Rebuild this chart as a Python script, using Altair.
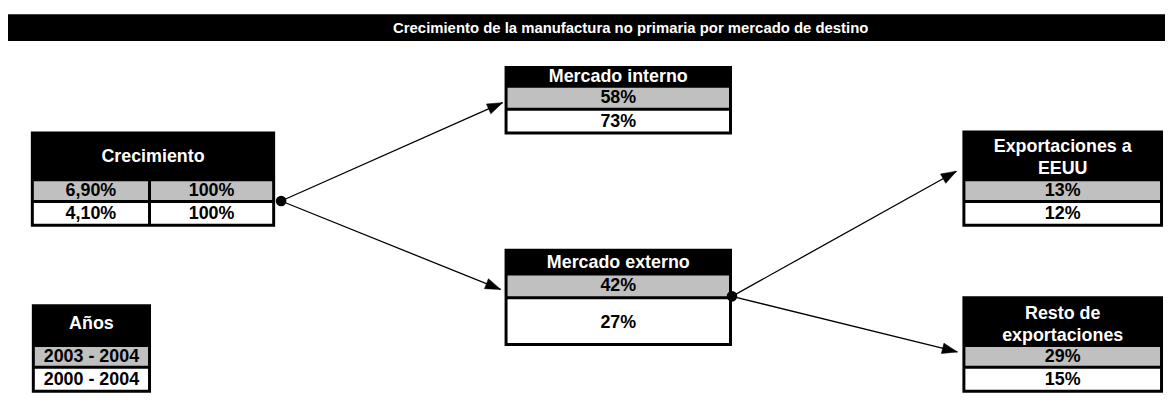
import math
import altair as alt
import pandas as pd

# ---------------- content ----------------
title_text = "Crecimiento de la manufactura no primaria por mercado de destino"

crec_header = ["Crecimiento"]
crec_growth = ["6,90%", "4,10%"]      # growth rate, 2003-2004 / 2000-2004
crec_share = ["100%", "100%"]

interno_header = ["Mercado interno"]
interno_share = ["58%", "73%"]

externo_header = ["Mercado externo"]
externo_share = ["42%", "27%"]

eeuu_header = ["Exportaciones a", "EEUU"]
eeuu_share = ["13%", "12%"]

resto_header = ["Resto de", "exportaciones"]
resto_share = ["29%", "15%"]

years_header = ["Años"]
years_labels = ["2003 - 2004", "2000 - 2004"]

# ---------------- layout (page pixels) ----------------
M = 8
CHART_W = 1173 - M
CHART_H = 389
GRAY = "#c0c0c0"
FONT = "Liberation Sans"
FS = 18

rects, texts = [], []


def box(x0, x1, top, gray_top, gray_bot, white_top, white_bot, bottom,
        header, header_ys, columns, white_text_y=None):
    rects.append(dict(x=x0, x2=x1, y=top, y2=bottom, fill="black"))
    cx = (x0 + x1) / 2
    for line, yy in zip(header, header_ys):
        texts.append(dict(x=cx, y=yy, text=line, fill="white"))
    for (c0, c1, vals) in columns:
        rects.append(dict(x=c0, x2=c1, y=gray_top, y2=gray_bot, fill=GRAY))
        rects.append(dict(x=c0, x2=c1, y=white_top, y2=white_bot, fill="white"))
        ccx = (c0 + c1) / 2
        texts.append(dict(x=ccx, y=(gray_top + gray_bot) / 2 + 0.5, text=vals[0], fill="black"))
        wy = white_text_y if white_text_y is not None else (white_top + white_bot) / 2 + 0.5
        texts.append(dict(x=ccx, y=wy, text=vals[1], fill="black"))


# Crecimiento (two columns)
box(31, 277, 131, 181, 200, 203, 224, 227, crec_header, [157],
    [(34, 149, crec_growth), (152, 274, crec_share)])
# Años
box(32, 152, 305, 348, 367, 370, 391, 394, years_header, [325],
    [(35, 149, years_labels)])
# Mercado interno
box(508, 737, 65, 87, 107, 110, 131, 134, interno_header, [76],
    [(511, 734, interno_share)])
# Mercado externo
box(508, 737, 249, 276, 297, 300, 344, 347, externo_header, [263],
    [(511, 734, externo_share)], white_text_y=324)
# Exportaciones a EEUU
box(969, 1171, 130, 181, 200, 203, 224, 227, eeuu_header, [147, 169],
    [(972, 1168, eeuu_share)])
# Resto de exportaciones
box(969, 1171, 297, 348, 367, 370, 391, 394, resto_header, [315, 337],
    [(972, 1168, resto_share)])

# title bar
rects.insert(0, dict(x=M, x2=1173, y=13, y2=40, fill="black"))
title_df = pd.DataFrame([dict(x=635, y=27, text=title_text)])

# connectors: start dot -> arrow tip
links = [
    (283, 201, 506, 102),
    (283, 201, 504, 290),
    (737, 297, 963, 171),
    (737, 297, 964, 353),
]
lines_df = pd.DataFrame([dict(x=a, y=b, x2=c, y2=d) for a, b, c, d in links])
heads_df = pd.DataFrame([
    dict(x=c, y=d, angle=math.degrees(math.atan2(d - b, c - a)) % 360)
    for a, b, c, d in links
])
dots_df = pd.DataFrame([dict(x=283, y=201), dict(x=737, y=297)])

rect_df = pd.DataFrame(rects)
text_df = pd.DataFrame(texts)

xs = alt.Scale(domain=[M, M + CHART_W], nice=False, zero=False)
ys = alt.Scale(domain=[M, M + CHART_H], nice=False, zero=False, reverse=True)
X = alt.X("x:Q", scale=xs, axis=None)
Y = alt.Y("y:Q", scale=ys, axis=None)

rect_layer = alt.Chart(rect_df).mark_rect(strokeWidth=0).encode(
    x=X, x2="x2:Q", y=Y, y2="y2:Q", color=alt.Color("fill:N", scale=None)
)
line_layer = alt.Chart(lines_df).mark_rule(color="black", strokeWidth=1.3).encode(
    x=X, y=Y, x2="x2:Q", y2="y2:Q"
)
head_layer = alt.Chart(heads_df).mark_point(
    shape="M0,0 L-2,-0.7 L-2,0.7 Z", filled=True, fill="black",
    stroke="black", strokeWidth=0.5, opacity=1, size=235
).encode(x=X, y=Y, angle=alt.Angle("angle:Q", scale=None))
dot_layer = alt.Chart(dots_df).mark_point(
    shape="circle", filled=True, fill="black", opacity=1, size=115
).encode(x=X, y=Y)
text_layer = alt.Chart(text_df).mark_text(
    font=FONT, fontSize=FS, fontWeight="bold", align="center", baseline="middle"
).encode(x=X, y=Y, text="text:N", color=alt.Color("fill:N", scale=None))
title_layer = alt.Chart(title_df).mark_text(
    font=FONT, fontSize=15, fontWeight="bold", align="center", baseline="middle",
    color="white"
).encode(x=X, y=Y, text="text:N")

chart = alt.layer(
    rect_layer, line_layer, head_layer, dot_layer, text_layer, title_layer
).properties(
    width=CHART_W, height=CHART_H, padding=0,
    autosize=alt.AutoSizeParams(type="none"), background="white"
).configure_view(strokeWidth=0, stroke="transparent")

chart.save("out.html", embed_options={"renderer": "svg", "actions": False})
